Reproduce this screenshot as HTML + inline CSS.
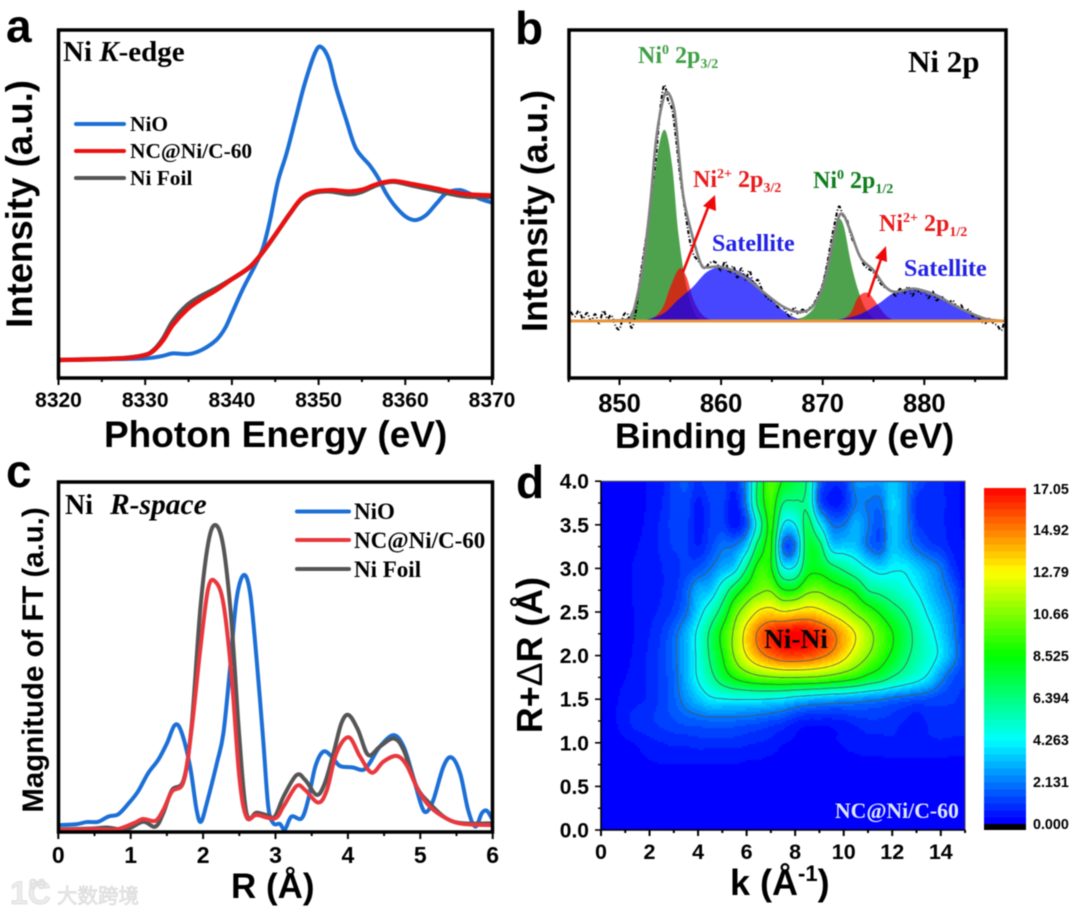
<!DOCTYPE html>
<html lang="en">
<head>
<meta charset="utf-8">
<title>Ni characterization panels</title>
<style>
html,body{margin:0;padding:0;background:#fff;}
svg{display:block;filter:blur(0.4px);}
.sans{font-family:"Liberation Sans",sans-serif;font-weight:bold;}
.serif{font-family:"Liberation Serif",serif;font-weight:bold;}
</style>
</head>
<body>
<svg id="figure" width="1080" height="914" viewBox="0 0 1080 914">
  <rect width="1080" height="914" fill="#fff"/>
  <defs>
    <clipPath id="clip-a"><rect x="58" y="30" width="435" height="348"/></clipPath>
    <clipPath id="clip-b"><rect x="569" y="30" width="437" height="348"/></clipPath>
    <clipPath id="clip-c"><rect x="58" y="482" width="435" height="350"/></clipPath>
    <clipPath id="clip-d"><rect x="601" y="482" width="364" height="348"/></clipPath>
  </defs>

  <!-- Panel letters -->
  <text class="sans" x="6" y="42" font-size="46">a</text>
  <text class="sans" x="515" y="44" font-size="46">b</text>
  <text class="sans" x="6" y="487" font-size="46">c</text>
  <text class="sans" x="516" y="498" font-size="46">d</text>

  <!-- Panel a -->
  <g id="panel-a"></g>
  <rect x="58.5" y="30" width="434" height="348" fill="none" stroke="#000" stroke-width="3.5"/>
  <text class="sans" font-size="36.6" text-anchor="middle" transform="translate(32 204) rotate(-90)">Intensity (a.u.)</text>
  <text class="sans" font-size="37" x="104" y="447">Photon Energy (eV)</text>
  <text class="serif" font-size="29" x="63" y="61">Ni <tspan font-style="italic">K</tspan>-edge</text>
  <text class="serif" font-size="21.4" x="130" y="131">NiO</text>
  <text class="serif" font-size="21.4" x="130" y="158">NC@Ni/C-60</text>
  <text class="serif" font-size="21.4" x="130" y="185">Ni Foil</text>

  <!-- Panel b -->
  <g id="panel-b"></g>
  <rect x="569" y="30" width="437" height="348" fill="none" stroke="#000" stroke-width="3.5"/>
  <text class="sans" font-size="35.7" text-anchor="middle" transform="translate(547 211) rotate(-90)">Intensity (a.u.)</text>
  <text class="sans" font-size="35.5" x="615" y="448">Binding Energy (eV)</text>
  <text class="serif" font-size="31" x="908" y="72">Ni 2p</text>
  <text class="serif" font-size="24" x="638" y="63" fill="#3f9f45">Ni<tspan font-size="14" dy="-9">0</tspan><tspan dy="9"> 2p</tspan><tspan font-size="14" dy="5">3/2</tspan></text>
  <text class="serif" font-size="24" x="693" y="187" fill="#e81c1c">Ni<tspan font-size="14" dy="-9">2+</tspan><tspan dy="9"> 2p</tspan><tspan font-size="14" dy="5">3/2</tspan></text>
  <text class="serif" font-size="24" x="813" y="188" fill="#0e7d1c">Ni<tspan font-size="14" dy="-9">0</tspan><tspan dy="9"> 2p</tspan><tspan font-size="14" dy="5">1/2</tspan></text>
  <text class="serif" font-size="24" x="879" y="231" fill="#e81c1c">Ni<tspan font-size="14" dy="-9">2+</tspan><tspan dy="9"> 2p</tspan><tspan font-size="14" dy="5">1/2</tspan></text>
  <text class="serif" font-size="24" x="712" y="251" fill="#2222e6">Satellite</text>
  <text class="serif" font-size="24" x="904" y="276" fill="#2222e6">Satellite</text>
  <g>
    <line x1="683" y1="272" x2="709" y2="205" stroke="#f00808" stroke-width="2.6"/>
    <polygon points="715,195 716,211 703,206" fill="#f00808"/>
  </g>
  <g>
    <line x1="868" y1="297" x2="882" y2="256" stroke="#f00808" stroke-width="2.6"/>
    <polygon points="886,246 887,262 875,258" fill="#f00808"/>
  </g>

  <!-- Panel c -->
  <g id="panel-c"></g>
  <rect x="58.5" y="482" width="434" height="350" fill="none" stroke="#000" stroke-width="3.5"/>
  <text class="sans" font-size="29.4" text-anchor="middle" transform="translate(43 660) rotate(-90)">Magnitude of FT (a.u.)</text>
  <text class="sans" font-size="35" x="231" y="898">R (Å)</text>
  <text class="serif" font-size="28" x="65" y="514">Ni <tspan x="110" font-style="italic" font-size="29.5">R-space</tspan></text>
  <text class="serif" font-size="23" x="354" y="519">NiO</text>
  <text class="serif" font-size="23" x="354" y="548">NC@Ni/C-60</text>
  <text class="serif" font-size="23" x="354" y="577">Ni Foil</text>

  <!-- Panel d -->
  <g id="panel-d"></g>
  <text class="sans" font-size="35.8" text-anchor="middle" transform="translate(542 655) rotate(-90)">R+<tspan font-weight="normal">Δ</tspan>R (Å)</text>
  <text class="sans" font-size="36" x="730" y="895">k (Å<tspan font-size="22" dy="-14">-1</tspan><tspan dy="14">)</tspan></text>
  <text class="serif" font-size="27.4" x="764" y="648" fill="#080808">Ni-Ni</text>
  <text class="serif" font-size="21.7" x="835" y="818" fill="#dfe9ff">NC@Ni/C-60</text>

  <!-- Watermark -->
  <g fill="#ececec" stroke="#cfcfcf" stroke-width="0.5">
    <text class="sans" font-size="32" x="10" y="904">1C</text>
    <text class="sans" font-size="15" x="29" y="889">00</text>
    <text font-family='"Liberation Sans","Noto Sans CJK SC",sans-serif' font-size="20.5" x="57" y="903">大数跨境</text>
  </g>
</svg>

<script>
// ---------- Panel a data ----------
const aTicks = [8320, 8330, 8340, 8350, 8360, 8370];
const aMinorTicks = [8325, 8335, 8345, 8355, 8365];
const aNioE = [8320,8325,8330,8332,8333.2,8335,8336.5,8338.2,8339.2,8340,8341.3,8342.8,8343.6,8344.4,8345.3,8346.3,8347.4,8348.4,8349.6,8350.3,8351.2,8352,8353.2,8354.3,8355.9,8356.8,8357.8,8358.9,8360.1,8361.2,8362.4,8363.6,8364.7,8366.2,8367.4,8368.5,8370];
const aNioI = [0,.2,.5,1.3,2.1,1.9,3.2,6.4,10.1,14.9,22.9,30.9,36,44.7,57,66,77.7,88.3,98.2,100,96,87.2,76.6,67.6,62.2,58.5,53.2,48.9,45.7,44.7,46.3,50,53.2,54.3,53.2,51.6,50.3];
const aNcE = [8320,8325,8328,8330,8331,8332.1,8333.2,8334.8,8336.3,8338.2,8340.1,8342.1,8343.6,8345.1,8346.7,8348,8349.4,8351.3,8353.6,8355.1,8356.7,8358.6,8360.9,8363.2,8365.1,8367,8370];
const aNcI = [0,.3,.7,1.6,3,6.4,11.2,16,19.1,22.3,26,29.8,34.6,40.4,46.8,51.6,53.7,54.3,53.9,54.5,56.2,57.2,56.2,55,53.9,53,52.6];
const aFoilI = [0,.3,.7,1.6,3.2,7,12.4,17.4,20.2,22.9,26,29.8,34.6,40.4,46.8,51.4,53.4,53.9,53,53.9,55.9,57,55.7,54.4,53.2,52.3,52.1];

// ---------- Panel b data ----------
const bTicks = [850, 860, 870, 880];
const bMinorTicks = [845, 855, 865, 875, 885];
const bFitE = [845,850.6,851.2,851.6,852.3,853,853.6,854.2,854.7,855.4,855.9,856.3,857,858,858.6,860,862.1,864.2,866,867.7,869.1,870.2,871.3,871.9,872.7,873.7,875,876.2,877.2,879,881.1,883.6,886,888];
const bFitI = [0,.5,3,8,24,50,78.9,94.9,100,92,70.2,54,40,25,23.4,23.6,19.9,12.5,6.5,3.9,6.8,17.8,41,46.9,39.6,27.9,22.1,14.8,12.7,14.1,11.2,5.4,1,0];
const bGreen1E = [850.2,851.4,852.3,853,853.8,854.5,855.2,855.8,856.6,857.5,858.6];
const bGreen1I = [0,4.8,22,47,74.5,83.3,67.2,38.1,14.8,2.5,0];
const bRed1E = [853,854.2,855,855.9,856.6,857.3,858.2,859.3];
const bRed1I = [0,5.4,14.8,22.9,19.2,9,2.5,0];
const bBlue1E = [852.2,854.3,855.7,857.2,858.6,860,861.4,862.8,864.2,865.6,867,868.4];
const bBlue1I = [0,3.2,9,14.8,21.4,23.6,22.4,19,13,6.5,2,0];
const bGreen2E = [866,867,868.4,869.5,870.5,871.3,871.6,872.1,872.8,873.5,874.2,875.1,875.8];
const bGreen2I = [0,.5,2.5,9,26.5,41,44.7,41,25,13.4,5.4,1,0];
const bRed2E = [871.6,872.7,873.5,874.4,875.1,876.2,877.2];
const bRed2I = [0,3.2,10.5,12.4,9,2.5,0];
const bBlue2E = [870.5,873.4,875.5,877.2,879.4,881.5,883.6,885.4,886.8];
const bBlue2I = [0,2.5,7.6,12.7,14.1,11.2,5.4,1.7,0];
const bRawE = [845.2,845.6,846,846.4,846.8,847.2,847.6,848,848.4,848.8,849.2,849.6,850,850.4,850.8,851.2,851.6,852,852.4,852.8,853.2,853.6,854,854.4,854.8,855.2,855.6,856,856.4,856.8,857.2,857.6,858,858.4,858.8,859.2,859.6,860,860.4,860.8,861.2,861.6,862,862.4,862.8,863.2,863.6,864,864.4,864.8,865.2,865.6,866,866.4,866.8,867.2,867.6,868,868.4,868.8,869.2,869.6,870,870.4,870.8,871.2,871.6,872,872.4,872.8,873.2,873.6,874,874.4,874.8,875.2,875.6,876,876.4,876.8,877.2,877.6,878,878.4,878.8,879.2,879.6,880,880.4,880.8,881.2,881.6,882,882.4,882.8,883.2,883.6,884,884.4,884.8,885.2,885.6,886,886.4,886.8,887.2,887.6,888];
const bRawI = [4,2,4.5,1,3.5,0,3,-1,4.5,1,2.5,-2,-3.5,2.5,3,-3,4,18,30,42,58,72,92,103,96,92,78,62,50,38,30,27,25,23,25,26,25,22,26,21,24,19,23,18,22,16,18,14,11,9,9,6,7,4,2,6,3,5,4,6,8,12,16,24,34,43,50,46,44,37,33,29,25,23,22,20,17,15,14,13,11,14,12,15,11,14,12,13,10,13,9,11,9,8,9,6,7,4,5,2,2,0,-1,1,-1,-2,-4,2];

// ---------- Panel c data ----------
const cTicks = [0, 1, 2, 3, 4, 5, 6];
const cMinorTicks = [0.5, 1.5, 2.5, 3.5, 4.5, 5.5];
const cNioR = [0,.25,.39,.55,.69,.83,.97,1.1,1.24,1.38,1.5,1.61,1.7,1.82,1.91,1.97,2.05,2.19,2.28,2.37,2.46,2.56,2.65,2.74,2.83,2.9,2.97,3.06,3.13,3.22,3.36,3.45,3.55,3.66,3.78,3.89,4.07,4.21,4.3,4.44,4.63,4.77,4.9,5.02,5.09,5.18,5.32,5.43,5.55,5.66,5.76,5.85,5.92,6];
const cNioM = [1.6,1.9,2.6,2.7,4.4,5.2,8.7,12.6,18.6,23,28.4,34.4,32.2,20.8,6.6,2.7,8.7,21.9,31.7,52.5,75.4,83.6,77.6,55.7,29.5,7.7,2.2,2,.2,4.4,3.8,9.8,20.8,25.7,24,21,20.5,19.7,21.9,27.3,31.1,27.3,17.5,7.7,6,9.8,20.8,23.8,18.6,6.6,1.1,5.5,6.3,3.3];
const cFoilR = [0,.48,.67,.94,1.17,1.34,1.45,1.57,1.73,1.84,1.96,2.07,2.17,2.28,2.39,2.5,2.6,2.74,2.88,2.99,3.11,3.29,3.41,3.57,3.68,3.8,3.91,4.01,4.14,4.28,4.44,4.63,4.77,4.95,5.13,5.36,5.59,6];
const cFoilM = [.2,.5,.8,.2,2.7,1.1,5.5,13.1,16.4,33.9,72.1,94,100,92.9,68.9,30.6,5.5,5.7,4.9,4.4,10.9,18,16.4,11.5,15.3,25.1,35,37.7,32.8,24.6,27.3,30,26.2,14.2,8.7,3.8,2.2,2.2];
const cNcR = [0,.48,.8,1.04,1.17,1.34,1.45,1.57,1.73,1.84,1.96,2.07,2.17,2.28,2.39,2.5,2.6,2.74,2.99,3.11,3.29,3.41,3.59,3.71,3.84,4.01,4.17,4.33,4.49,4.67,4.81,4.97,5.13,5.36,5.59,6];
const cNcM = [0,.3,.2,2.2,3.6,3,6.6,12.6,15.8,32.8,59,79.2,81.4,74.3,51.4,17.5,4.2,4.9,3.8,7.7,14.4,13.1,9,13.1,25.1,30.4,24,18.8,22.4,24.3,21.3,13.1,7.7,3.8,2,1.6];

// ---------- Panel d data ----------
const dXTicks = [0, 2, 4, 6, 8, 10, 12, 14];
const dXMinorTicks = [1, 3, 5, 7, 9, 11, 13, 15];
const dYTicks = [0, 0.5, 1, 1.5, 2, 2.5, 3, 3.5, 4];
const dYMinorTicks = [0.25, 0.75, 1.25, 1.75, 2.25, 2.75, 3.25, 3.75];
const heatK = [0,.5,1,1.5,2,2.5,3,3.5,4,4.5,5,5.5,6,6.5,7,7.5,8,8.5,9,9.5,10,10.5,11,11.5,12,12.5,13,13.5,14,14.5,15];
const heatR = [4,3.75,3.5,3.25,3,2.75,2.5,2.25,2,1.75,1.5,1.25,1,.75,.5,.25,0];
const heatValues = [
.2,.2,.2,.3,.4,.6,1.2,1.5,1,1.4,1.3,.9,2.6,7,10,8.3,7.4,6.2,1.9,.9,1,2.5,2.6,2.6,3.4,2.6,1.5,1,.8,.5,.3,
.2,.2,.2,.3,.4,.7,1.2,1.3,.6,1.1,1.2,.5,2.4,7,9.5,6.4,6.2,6,1.7,.6,.8,2.1,2.1,2,3.6,2.6,1,.8,.8,.5,.3,
.2,.2,.25,.3,.45,.8,1.2,1.2,.5,1.1,1.2,.5,1.6,5.2,9,4.2,4.2,7,4.3,2.15,2.1,3,2.2,1.5,3.3,2.7,1.2,.9,.8,.5,.3,
.25,.25,.3,.35,.5,.8,1.1,1.1,.7,1.3,2,2.2,3.6,7.2,8.7,2,2.2,7.5,7,3.7,3.5,3.3,2.1,1.6,3.3,2.8,1.9,1.3,1,.6,.35,
.25,.25,.3,.4,.5,.7,.9,1.2,1.5,2.1,2.9,3.7,6.4,9.2,8.7,4.6,4.6,7.8,8,7,6.1,5.2,4.26,3.7,4.1,4.1,3.5,2.8,2.1,1,.4,
.25,.25,.3,.4,.5,.7,.9,1.7,2.9,3.3,5.2,7.4,9.2,10.3,10.5,8.7,8.7,10.2,10.4,9.6,9,8.1,6.4,5.9,5.4,4.8,4.2,3.3,2.5,1.7,.6,
.3,.3,.3,.4,.6,.8,1.2,2,3.6,5.2,7.2,9.9,11.6,13,13.4,12.9,13.2,13.6,13.2,12.4,11.5,10.4,9.4,8.3,7.2,6.3,5.2,4,3.1,2.13,.8,
.3,.3,.3,.4,.7,1.1,1.8,3,4.6,6.7,8.9,11,13.4,15.2,16.4,17,17.2,17,16.3,15.3,14,12.7,11.2,9.9,8.6,7.3,5.9,4.8,3.6,2.4,1,
.3,.3,.3,.45,.8,1.2,1.9,3,4.6,6.6,8.5,10.8,12.8,14.3,15.3,15.9,16,15.8,15.3,14.5,13.3,11.9,10.66,9.4,8.2,6.9,5.8,5,3.9,2.6,1.2,
.3,.3,.35,.5,.8,1.2,1.8,3,4.4,5.8,7.4,8.7,9.6,10.2,10.5,10.7,10.7,10.6,10.4,10,9.5,8.9,8,7.3,6.3,5.5,4.8,3.9,2.5,1.5,1.1,
.3,.3,.45,.6,.8,1.2,1.7,2.5,3.3,4,4.2,4.3,4.3,4.3,4.2,4,3.6,3.3,3.1,2.9,2.8,2.6,2.4,2.2,1.9,1.7,1.5,1.4,1.2,1.1,1,
.3,.3,.6,.9,1,1.2,1.4,1.6,1.7,1.8,1.8,1.8,1.7,1.6,1.4,1.2,.8,.6,.6,.6,.7,.9,1,1,.9,.7,.5,.8,1,1,1,
.2,.2,.3,.4,.6,.7,.8,.8,.9,.9,.9,.9,.8,.7,.6,.4,.3,.25,.25,.3,.4,.5,.6,.6,.65,.65,.65,.65,.65,.6,.6,
.2,.2,.2,.25,.3,.35,.35,.35,.35,.35,.35,.35,.3,.3,.25,.25,.2,.2,.2,.2,.25,.25,.25,.25,.25,.25,.25,.25,.25,.25,.25,
.15,.15,.15,.15,.15,.15,.15,.15,.15,.15,.15,.15,.15,.15,.15,.15,.15,.15,.15,.15,.15,.15,.15,.15,.15,.15,.15,.15,.15,.15,.15,
.15,.15,.15,.15,.15,.15,.15,.15,.15,.15,.15,.15,.15,.15,.15,.15,.15,.15,.15,.15,.15,.15,.15,.15,.15,.15,.15,.15,.15,.15,.15,
.15,.15,.15,.15,.15,.15,.15,.15,.15,.15,.15,.15,.15,.15,.15,.15,.15,.15,.15,.15,.15,.15,.15,.15,.15,.15,.15,.15,.15,.15,.15
];
const contourLevels = [2.131, 4.263, 6.394, 8.525, 10.66, 12.79, 14.92];
const colorbarLabels = ['0.000','2.131','4.263','6.394','8.525','10.66','12.79','14.92','17.05'];
const colorbarValues = [0, 2.131, 4.263, 6.394, 8.525, 10.66, 12.79, 14.92, 17.05];

// ---------- Scales ----------
const xA = e => 58.5 + (e - 8320) * 8.67;
const yA = v => 360 - v * 3.13;
const xB = e => 619.5 + (e - 850) * 10.16;
const yB = v => 321 - v * 2.29;
const xC = r => 58.3 + r * 72.4;
const yC = v => 830 - v * 3.05;
const xD = k => 601 + k * 24.27;
const yD = r => 830 - r * 87.2;
const yBar = v => 824 - v * (336 / 17.05);

const root = document.getElementById('figure');
const NS = root.namespaceURI;
function mk(tag, parent, attrs) {
  const el = document.createElementNS(NS, tag);
  for (const key in attrs) el.setAttribute(key, attrs[key]);
  parent.appendChild(el);
  return el;
}
function curve(xs, ys, fx, fy) {
  const p = xs.map((x, i) => [fx(x), fy(ys[i])]);
  let d = 'M' + p[0][0].toFixed(2) + ' ' + p[0][1].toFixed(2);
  for (let i = 0; i < p.length - 1; i++) {
    const p0 = p[Math.max(0, i - 1)], p1 = p[i], p2 = p[i + 1], p3 = p[Math.min(p.length - 1, i + 2)];
    const c1x = p1[0] + (p2[0] - p0[0]) / 6, c1y = p1[1] + (p2[1] - p0[1]) / 6;
    const c2x = p2[0] - (p3[0] - p1[0]) / 6, c2y = p2[1] - (p3[1] - p1[1]) / 6;
    d += 'C' + c1x.toFixed(2) + ' ' + c1y.toFixed(2) + ' ' + c2x.toFixed(2) + ' ' + c2y.toFixed(2) + ' ' + p2[0].toFixed(2) + ' ' + p2[1].toFixed(2);
  }
  return d;
}
function xAxis(parent, ticks, minor, fx, yBase, labelY, size, majorLen, minorLen) {
  ticks.forEach(t => {
    const tick = mk('line', parent, {x1: fx(t), x2: fx(t), y1: yBase, y2: yBase + majorLen, stroke: '#000', 'stroke-width': 2});
    
    
    const label = mk('text', parent, {x: fx(t), y: labelY, 'text-anchor': 'middle', 'font-size': size, class: 'sans'});
    
    
    label.textContent = t;
  });
  minor.forEach(t => {
    const tick = mk('line', parent, {x1: fx(t), x2: fx(t), y1: yBase, y2: yBase + minorLen, stroke: '#000', 'stroke-width': 2});
    
    
  });
}
function series(parent, xs, ys, fx, fy, color, width, clip, name) {
  const line = mk('path', parent, {d: curve(xs, ys, fx, fy), fill: 'none', stroke: color, 'stroke-width': width, 'stroke-linejoin': 'round', 'clip-path': 'url(#' + clip + ')'});
  
  
}
function legendLine(parent, x1, x2, y, color, width, name) {
  const line = mk('line', parent, {x1: x1, x2: x2, y1: y, y2: y, stroke: color, 'stroke-width': width, 'stroke-linecap': 'round'});
  
  
}

// ---------- Panel a ----------
const gA = document.getElementById('panel-a');
xAxis(gA, aTicks, aMinorTicks, xA, 378, 407, 21, 7, 4);
series(gA, aNioE, aNioI, xA, yA, '#1c6fd6', 4, 'clip-a', 'series-a-nio');
series(gA, aNcE, aFoilI, xA, yA, '#555555', 4.6, 'clip-a', 'series-a-ni-foil');
series(gA, aNcE, aNcI, xA, yA, '#ee1010', 4.2, 'clip-a', 'series-a-nc-ni-c-60');
legendLine(gA, 76, 124, 124, '#1c6fd6', 4, 'legend-a-line-nio');
legendLine(gA, 76, 124, 151, '#ee1010', 4, 'legend-a-line-nc');
legendLine(gA, 76, 124, 178, '#555555', 4, 'legend-a-line-foil');

// ---------- Panel b ----------
const gB = document.getElementById('panel-b');
xAxis(gB, bTicks, bMinorTicks, xB, 378, 412, 25.5, 7, 4);
function fillPeak(xs, ys, color, opacity, name) {
  const area = mk('path', gB, {d: curve(xs, ys, xB, yB) + 'Z', fill: color, 'fill-opacity': opacity, 'clip-path': 'url(#clip-b)'});
  
  
}
fillPeak(bGreen1E, bGreen1I, '#228b22', .8, 'peak-ni0-2p32');
fillPeak(bGreen2E, bGreen2I, '#228b22', .8, 'peak-ni0-2p12');
fillPeak(bRed1E, bRed1I, '#ff0000', .7, 'peak-ni2-2p32');
fillPeak(bRed2E, bRed2I, '#ff0000', .7, 'peak-ni2-2p12');
fillPeak(bBlue1E, bBlue1I, '#0000ff', .72, 'peak-satellite-1');
fillPeak(bBlue2E, bBlue2I, '#0000ff', .72, 'peak-satellite-2');
const rawLine = mk('path', gB, {d: curve(bRawE, bRawI, xB, yB), fill: 'none', stroke: '#000', 'stroke-width': 2, 'stroke-dasharray': '4 2 1 2', 'clip-path': 'url(#clip-b)'});


series(gB, bFitE, bFitI, xB, yB, '#808080', 2.6, 'clip-b', 'series-b-fit');
const baseLine = mk('line', gB, {x1: xB(845), x2: xB(888), y1: yB(0), y2: yB(0), stroke: '#e8943c', 'stroke-width': 3});



// ---------- Panel c ----------
const gC = document.getElementById('panel-c');
xAxis(gC, cTicks, cMinorTicks, xC, 832, 863, 23, 7, 4);
series(gC, cNioR, cNioM, xC, yC, '#1c6fd6', 4, 'clip-c', 'series-c-nio');
series(gC, cFoilR, cFoilM, xC, yC, '#555555', 4, 'clip-c', 'series-c-ni-foil');
series(gC, cNcR, cNcM, xC, yC, '#e8383e', 4, 'clip-c', 'series-c-nc-ni-c-60');
legendLine(gC, 297, 349, 511.5, '#1c6fd6', 4, 'legend-c-line-nio');
legendLine(gC, 297, 349, 540, '#e8383e', 4, 'legend-c-line-nc');
legendLine(gC, 297, 349, 569, '#555555', 4, 'legend-c-line-foil');

// ---------- Panel d ----------
const gD = document.getElementById('panel-d');
function heatAt(i, j) {
  const c = Math.max(0, Math.min(heatK.length - 1, i));
  const r = Math.max(0, Math.min(heatR.length - 1, j));
  return heatValues[r * heatK.length + c];
}
function cubic(a, b, c, d, t) {
  return b + 0.5 * t * (c - a + t * (2 * a - 5 * b + 4 * c - d + t * (3 * (b - c) + d - a)));
}
function fieldAt(k, r) {
  const fx = k / (heatK[1] - heatK[0]);
  const fy = (heatR[0] - r) / (heatR[0] - heatR[1]);
  const i = Math.min(heatK.length - 2, Math.floor(fx));
  const j = Math.min(heatR.length - 2, Math.floor(fy));
  const tx = fx - i, ty = fy - j;
  const rows = [];
  for (let m = -1; m <= 2; m++) {
    rows.push(cubic(heatAt(i - 1, j + m), heatAt(i, j + m), heatAt(i + 1, j + m), heatAt(i + 2, j + m), tx));
  }
  return Math.max(0, cubic(rows[0], rows[1], rows[2], rows[3], ty));
}
function colorOf(v) {
  let r = 0, g = 0, b = 255;
  const s = [[.2, 0, 0, 255], [4.263, 0, 255, 255], [8.525, 0, 255, 0], [12.79, 255, 255, 0], [17.05, 255, 0, 0]];
  if (v >= 17.05) return 'rgb(255,0,0)';
  for (let n = 0; n < s.length - 1; n++) {
    if (v >= s[n][0] && v < s[n + 1][0]) {
      const t = (v - s[n][0]) / (s[n + 1][0] - s[n][0]);
      r = s[n][1] + t * (s[n + 1][1] - s[n][1]);
      g = s[n][2] + t * (s[n + 1][2] - s[n][2]);
      b = s[n][3] + t * (s[n + 1][3] - s[n][3]);
    }
  }
  return 'rgb(' + Math.round(r) + ',' + Math.round(g) + ',' + Math.round(b) + ')';
}
const BAND = 17.05 / 48;
const bandColor = v => colorOf(Math.floor(v / BAND) * BAND + BAND / 2);

const heatBg = mk('rect', gD, {x: xD(0), y: yD(4), width: xD(15) - xD(0), height: yD(0) - yD(4), fill: '#0000ff'});


const heatGroup = mk('g', gD, {'shape-rendering': 'crispEdges', 'clip-path': 'url(#clip-d)'});


const CELL = 2;
const kPerPx = 15 / (xD(15) - xD(0));
const rPerPx = 4 / (yD(0) - yD(4));
const nx = Math.ceil((xD(15) - xD(0)) / CELL) + 1;
const ny = Math.ceil((yD(0) - yD(4)) / CELL) + 1;
const samples = [];
for (let j = 0; j < ny; j++) {
  const row = [];
  const rVal = Math.max(0, 4 - j * CELL * rPerPx);
  for (let i = 0; i < nx; i++) {
    row.push(fieldAt(Math.min(15, i * CELL * kPerPx), rVal));
  }
  samples.push(row);
}
for (let j = 0; j < ny; j++) {
  let start = 0;
  let cur = bandColor(samples[j][0]);
  for (let i = 1; i <= nx; i++) {
    const next = i < nx ? bandColor(samples[j][i]) : null;
    if (next !== cur) {
      const cell = mk('rect', heatGroup, {x: xD(0) + start * CELL - 1, y: yD(4) + j * CELL - 1, width: (i - start) * CELL, height: CELL, fill: cur});
      
      
      start = i;
      cur = next;
    }
  }
}
contourLevels.forEach(level => {
  let d = '';
  for (let j = 0; j < ny - 1; j++) {
    for (let i = 0; i < nx - 1; i++) {
      const a = samples[j][i], b = samples[j][i + 1], c = samples[j + 1][i + 1], e = samples[j + 1][i];
      const pts = [];
      const x0 = xD(0) + i * CELL, y0 = yD(4) + j * CELL;
      if ((a < level) !== (b < level)) pts.push([x0 + CELL * (level - a) / (b - a), y0]);
      if ((b < level) !== (c < level)) pts.push([x0 + CELL, y0 + CELL * (level - b) / (c - b)]);
      if ((e < level) !== (c < level)) pts.push([x0 + CELL * (level - e) / (c - e), y0 + CELL]);
      if ((a < level) !== (e < level)) pts.push([x0, y0 + CELL * (level - a) / (e - a)]);
      for (let n = 0; n + 1 < pts.length; n += 2) {
        d += 'M' + pts[n][0].toFixed(1) + ' ' + pts[n][1].toFixed(1) + 'L' + pts[n + 1][0].toFixed(1) + ' ' + pts[n + 1][1].toFixed(1);
      }
    }
  }
  const contour = mk('path', gD, {d: d, fill: 'none', stroke: '#4a5a55', 'stroke-width': 0.9, 'stroke-linecap': 'round', 'stroke-opacity': 0.85, 'clip-path': 'url(#clip-d)'});
  
  
});
const plotBorder = mk('rect', gD, {x: xD(0), y: yD(4), width: xD(15) - xD(0), height: yD(0) - yD(4), fill: 'none', stroke: '#555', 'stroke-width': 1});


const bottomAxis = mk('line', gD, {x1: xD(0), x2: xD(15), y1: yD(0), y2: yD(0), stroke: '#000', 'stroke-width': 1.6});


const leftAxis = mk('line', gD, {x1: xD(0), x2: xD(0), y1: yD(0), y2: yD(4), stroke: '#000', 'stroke-width': 1.6});


xAxis(gD, dXTicks, dXMinorTicks, xD, 830, 859, 21.5, 6, 3);
dYTicks.forEach(t => {
  const tick = mk('line', gD, {x1: xD(0) - 6, x2: xD(0), y1: yD(t), y2: yD(t), stroke: '#000', 'stroke-width': 1.6});
  
  
  const label = mk('text', gD, {x: 589, y: yD(t) + 7.5, 'text-anchor': 'end', 'font-size': 21, class: 'sans'});
  
  
  label.textContent = t.toFixed(1);
});
dYMinorTicks.forEach(t => {
  const tick = mk('line', gD, {x1: xD(0) - 3, x2: xD(0), y1: yD(t), y2: yD(t), stroke: '#000', 'stroke-width': 1.4});
  
  
});

// Colorbar
const barGroup = mk('g', gD, {'shape-rendering': 'crispEdges'});


for (let n = 0; n < 48; n++) {
  const low = n * BAND;
  const band = mk('rect', barGroup, {x: 984, y: yBar(low + BAND), width: 42, height: yBar(low) - yBar(low + BAND) + 0.6, fill: colorOf(low + BAND / 2)});
  
  
}
const barZero = mk('rect', barGroup, {x: 984, y: 824, width: 42, height: 6, fill: '#000'});


colorbarLabels.forEach((text, n) => {
  const label = mk('text', gD, {x: 1033, y: yBar(colorbarValues[n]) + (n === 0 ? 5 : n === 8 ? 6 : 5), 'font-size': 14.3, class: 'sans'});
  
  
  label.textContent = text;
});
</script>
</body>
</html>
